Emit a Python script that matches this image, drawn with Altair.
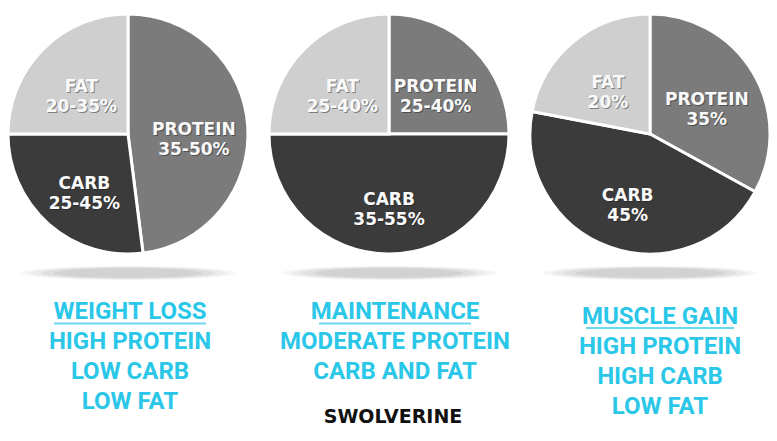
import altair as alt
import pandas as pd

diets = ["WEIGHT LOSS", "MAINTENANCE", "MUSCLE GAIN"]
macros = ["PROTEIN", "CARB", "FAT"]
shares = [
    [48, 27, 25],   # weight loss (drawn slice sizes)
    [25, 50, 25],   # maintenance
    [33, 45, 22],   # muscle gain
]
pct_labels = [
    ["35-50%", "25-45%", "20-35%"],
    ["25-40%", "35-55%", "25-40%"],
    ["35%", "45%", "20%"],
]
subtitles = [
    ["HIGH PROTEIN", "LOW CARB", "LOW FAT"],
    ["MODERATE PROTEIN", "CARB AND FAT"],
    ["HIGH PROTEIN", "HIGH CARB", "LOW FAT"],
]
brand = "SWOLVERINE"

pie_rows = []
for d, vals, labs in zip(diets, shares, pct_labels):
    for i, (m, v, l) in enumerate(zip(macros, vals, labs)):
        pie_rows.append({"diet": d, "macro": m, "ord": i, "value": v, "pct": l})
pie_df = pd.DataFrame(pie_rows)

text_rows = []
for d, subs in zip(diets, subtitles):
    text_rows.append({"diet": d, "line": 0, "txt": d})
    for j, s in enumerate(subs):
        text_rows.append({"diet": d, "line": j + 1, "txt": s})
text_df = pd.DataFrame(text_rows)
diet_df = pd.DataFrame({"diet": diets})
brand_df = pd.DataFrame({"txt": [brand]})

x_pie = alt.X("diet:N", scale=alt.Scale(type="point", domain=diets, range=[120, 642], padding=0), axis=None)
x_txt = alt.X("diet:N", scale=alt.Scale(type="point", domain=diets, range=[122, 652], padding=0), axis=None)
theta_scale = alt.Scale(domain=[0, 1], range=[0, 6.283185307])

ellipse = "M -1 0 A 1 0.065 0 1 0 1 0 A 1 0.065 0 1 0 -1 0 Z"
shadows = []
for sz, op in [(46000, 0.08), (38000, 0.1), (30000, 0.12), (22000, 0.14)]:
    shadows.append(
        alt.Chart(diet_df).mark_point(shape=ellipse, filled=True, color="#8a8a8a", opacity=op, size=sz, strokeWidth=0)
        .encode(x=x_pie, y=alt.value(265))
    )

pie_base = alt.Chart(pie_df).transform_joinaggregate(
    total="sum(value)", groupby=["diet"]
).transform_window(
    cum="sum(value)", groupby=["diet"], sort=[alt.SortField("ord")], frame=[None, 0]
).transform_calculate(
    t1="(datum.cum - datum.value) / datum.total",
    t2="datum.cum / datum.total",
    mid="(datum.cum - datum.value / 2) / datum.total",
    lab="datum.macro + '\\n' + datum.pct",
)

arcs = pie_base.mark_arc(outerRadius=120, stroke="white", strokeWidth=3).encode(
    x=x_pie,
    y=alt.value(126),
    theta=alt.Theta("t1:Q", scale=theta_scale, stack=None),
    theta2="t2:Q",
    color=alt.Color("macro:N", scale=alt.Scale(domain=macros, range=["#7b7b7b", "#3b3b3b", "#cfcfcf"]), legend=None),
)

def label_layer(color, opacity, dx, dy):
    return pie_base.mark_text(
        radius=66, font="DejaVu Sans", fontWeight="bold", fontSize=17, lineHeight=20,
        lineBreak="\n", color=color, opacity=opacity, dx=dx, dy=dy, baseline="middle", align="center"
    ).encode(
        x=x_pie, y=alt.value(126),
        theta=alt.Theta("mid:Q", scale=theta_scale, stack=None),
        text="lab:N",
    )

label_shadow = label_layer("#1a1a1a", 0.45, 1, 1)
labels = label_layer("#fafafa", 1, 0, 0)

cyan = "#2bc7e8"
tfont = "Roboto"
y_line = alt.Y("line:Q", scale=alt.Scale(domain=[0, 3], range=[311, 401]), axis=None)
block_a = alt.Chart(text_df).transform_filter(alt.datum.diet != diets[2]).mark_text(
    font=tfont, fontWeight="bold", fontSize=24, color=cyan, baseline="alphabetic", align="center"
).encode(x=x_txt, y=y_line, text="txt:N")
block_b = alt.Chart(text_df).transform_filter(alt.datum.diet == diets[2]).mark_text(
    font=tfont, fontWeight="bold", fontSize=24, color=cyan, baseline="alphabetic", align="center", dy=5
).encode(x=x_txt, y=y_line, text="txt:N")

under_a = alt.Chart(diet_df).transform_filter(alt.datum.diet != diets[2]).mark_tick(
    orient="horizontal", size=152, thickness=2, color=cyan
).encode(x=x_txt, y=alt.value(315.5))
under_b = alt.Chart(diet_df).transform_filter(alt.datum.diet == diets[2]).mark_tick(
    orient="horizontal", size=148, thickness=2, color=cyan
).encode(x=x_txt, y=alt.value(320))

logo = alt.Chart(brand_df).mark_text(
    font="DejaVu Sans", fontWeight="bold", fontSize=19, color="#111111", baseline="alphabetic", align="center"
).encode(x=alt.value(385), y=alt.value(415), text="txt:N")

chart = alt.layer(
    *shadows, arcs, label_shadow, labels, block_a, block_b, under_a, under_b, logo
).resolve_scale(x="independent").properties(
    width=761, height=425, padding=0, autosize=alt.AutoSizeParams(type="none"), background="white"
).configure_view(strokeWidth=0)

chart.save("out.html", embed_options={"renderer": "svg", "actions": False})
